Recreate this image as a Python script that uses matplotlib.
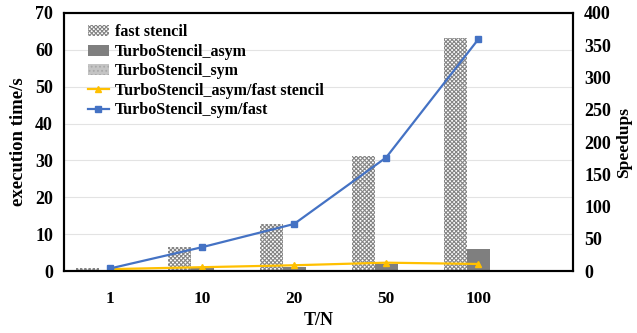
import matplotlib

matplotlib.use("Agg")

import numpy as np
import matplotlib.pyplot as plt

# data
categories = ["1", "10", "20", "50", "100"]
fast_stencil = [0.8, 6.5, 12.8, 31.3, 63.3]
turbo_asym = [0.2, 1.0, 1.2, 2.0, 6.0]
turbo_sym = [0.4, 0.4, 0.4, 0.4, 0.3]
speedup_asym = [3, 6, 9, 13, 11]
speedup_sym = [4, 37, 73, 176, 359]

plt.rcParams["font.family"] = ["Liberation Serif", "DejaVu Serif"]
plt.rcParams["font.weight"] = "bold"
plt.rcParams["hatch.linewidth"] = 0.8

fig = plt.figure(figsize=(6.37, 3.33), dpi=100)
ax = fig.add_axes([0.1005, 0.186, 0.799, 0.775])
ax2 = ax.twinx()

x = np.arange(len(categories))
w = 0.25

ax.bar(x - w, fast_stencil, w, facecolor="white", edgecolor="#858585",
       hatch="xxxxxxxx", linewidth=0, label="fast stencil", zorder=2)
ax.bar(x, turbo_asym, w, color="#7f7f7f", label="TurboStencil_asym", zorder=2)
ax.bar(x + w, turbo_sym, w, facecolor="#c4c4c4", edgecolor="#a8a8a8",
       hatch="....", linewidth=0, label="TurboStencil_sym", zorder=2)

ax2.plot(x, speedup_asym, color="#FFC000", marker="^", markersize=5,
         linewidth=1.6, label="TurboStencil_asym/fast stencil")
ax2.plot(x, speedup_sym, color="#4472C4", marker="s", markersize=5,
         linewidth=1.6, label="TurboStencil_sym/fast")

ax.set_ylim(0, 70)
ax.set_yticks(range(0, 71, 10))
ax2.set_ylim(0, 400)
ax2.set_yticks(range(0, 401, 50))
ax.set_xlim(-0.5, 5.03)
ax.set_xticks(x)
ax.set_xticklabels(categories)

ax.yaxis.grid(True, color="#e3e3e3", linewidth=0.8, zorder=0)
ax.set_axisbelow(True)

for a in (ax, ax2):
    a.tick_params(length=0, labelsize=13, pad=8)
    for s in a.spines.values():
        s.set_linewidth(1.5)
        s.set_color("black")
ax.tick_params(axis="x", labelsize=12.5, pad=14)

ax.set_xlabel("T/N", fontsize=13, fontweight="bold", labelpad=4)
ax.set_ylabel("execution time/s", fontsize=13.5, fontweight="bold", labelpad=6)
ax2.set_ylabel("Speedups", fontsize=12.5, fontweight="bold", labelpad=4)

h1, l1 = ax.get_legend_handles_labels()
h2, l2 = ax2.get_legend_handles_labels()
ax2.legend(h1 + h2, l1 + l2, loc="upper left", frameon=False, fontsize=11.5,
           handlelength=1.3, handletextpad=0.4, labelspacing=0.22,
           borderaxespad=0.3, bbox_to_anchor=(0.025, 1.0))

plt.savefig("out.png", dpi=100)
